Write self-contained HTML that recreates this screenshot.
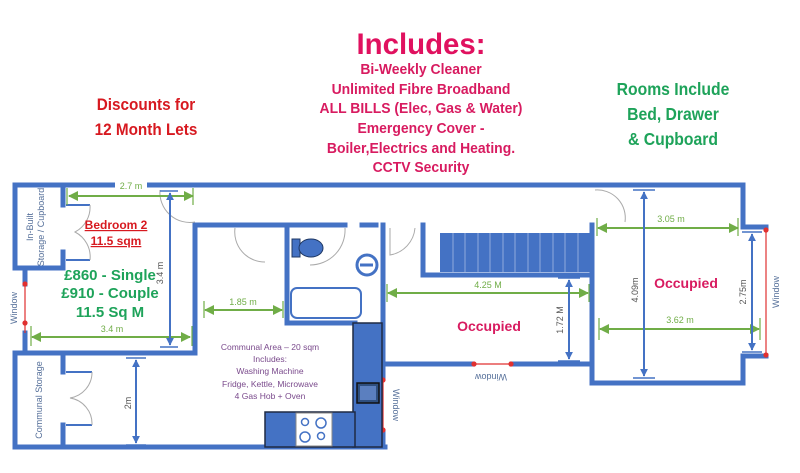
<!DOCTYPE html>
<html><head><meta charset="utf-8"><style>
html,body{margin:0;padding:0;background:#fff;width:800px;height:473px;overflow:hidden}
svg{display:block}
text{font-family:"Liberation Sans",sans-serif}
</style></head><body>
<svg width="800" height="473" viewBox="0 0 800 473" xmlns="http://www.w3.org/2000/svg">
<defs>
<marker id="ga" viewBox="0 0 10 10" refX="9" refY="5" markerWidth="5" markerHeight="5" orient="auto-start-reverse"><path d="M0,0L10,5L0,10z" fill="#70ad47"/></marker>
<marker id="ba" viewBox="0 0 10 10" refX="9" refY="5" markerWidth="4" markerHeight="4" orient="auto-start-reverse"><path d="M0,0L10,5L0,10z" fill="#4472c4"/></marker>
</defs>
<!-- header text -->
<g font-weight="bold" text-anchor="middle">
<text x="421" y="54" font-size="30" fill="#e0115f" transform="translate(421 0) scale(0.98 1) translate(-421 0)">Includes:</text>
<g font-size="15" fill="#d81b60" transform="translate(421 0) scale(0.93 1) translate(-421 0)">
<text x="421" y="74">Bi-Weekly Cleaner</text>
<text x="421" y="94">Unlimited Fibre Broadband</text>
<text x="421" y="113">ALL BILLS (Elec, Gas &amp; Water)</text>
<text x="421" y="133">Emergency Cover -</text>
<text x="421" y="153">Boiler,Electrics and Heating.</text>
<text x="421" y="172">CCTV Security</text>
</g>
<g font-size="17" fill="#d71920" transform="translate(146 0) scale(0.9 1) translate(-146 0)">
<text x="146" y="110">Discounts for</text>
<text x="146" y="135">12 Month Lets</text>
</g>
<g font-size="17.5" fill="#1ea35a" transform="translate(673 0) scale(0.9 1) translate(-673 0)">
<text x="673" y="95">Rooms Include</text>
<text x="673" y="120">Bed, Drawer</text>
<text x="673" y="145">&amp; Cupboard</text>
</g>
</g>

<!-- walls -->
<g stroke="#4472c4" stroke-width="5" fill="none" stroke-linecap="square">
<path d="M15,185 H743 V227 H766"/>
<path d="M766,356 H743 V383 H592 V225"/>
<path d="M15,185 V268 H63"/>
<path d="M25,268 V284"/>
<path d="M25,333 V353"/>
<path d="M15,353 H195 V225 H265"/>
<path d="M270,225 H345"/>
<path d="M362,225 H376"/>
<path d="M15,353 V447 H385"/>
<path d="M287,225 V323 H355"/>
<path d="M383,225 V378"/>
<path d="M383,432 V447"/>
<path d="M423,225 V275 H592"/>
<path d="M385,364 H472"/>
<path d="M512,364 H592"/>
<path d="M63,188 V205"/>
<path d="M63,252 V268"/>
<path d="M63,355 V372"/>
<path d="M63,425 V447"/>
</g>
<rect x="115" y="182" width="32" height="8" fill="#fff"/>
<!-- door leaves -->
<g stroke="#4472c4" stroke-width="2" fill="none">
<path d="M66,205 H90 M66,260 H90 M66,372 H92 M66,425 H92"/>
</g>
<g stroke="#aaa" stroke-width="1" fill="none">
<path d="M90,205 A28,28 0 0 1 75,232 A28,28 0 0 1 90,260"/>
<path d="M92,372 A26,26 0 0 1 70,398 A26,26 0 0 1 92,425"/>
<path d="M160,190 A30,30 0 0 0 195,222"/>
<path d="M235,228 A30,30 0 0 0 265,262"/>
<path d="M345,228 A35,35 0 0 1 310,265"/>
<path d="M390,228 V255 A30,30 0 0 0 415,228"/>
<path d="M595,190 A28,28 0 0 1 625,222"/>
</g>
<!-- windows -->
<g stroke="#e03030" stroke-width="1.2" fill="#e03030">
<line x1="25" y1="284" x2="25" y2="333"/>
<line x1="766" y1="228" x2="766" y2="356"/>
<line x1="472" y1="364" x2="512" y2="364"/>
<line x1="383" y1="378" x2="383" y2="432"/>
<circle cx="25" cy="284" r="2"/><circle cx="25" cy="323" r="2"/>
<circle cx="766" cy="230" r="2"/><circle cx="766" cy="355" r="2"/>
<circle cx="474" cy="364" r="2"/><circle cx="511" cy="364" r="2"/>
<circle cx="383" cy="380" r="2"/><circle cx="383" cy="430" r="2"/>
</g>
<!-- stairs -->
<rect x="440" y="233" width="150" height="39" fill="#4472c4"/>
<g stroke="#8fa9dc" stroke-width="1">
<path d="M453,233V272M465,233V272M478,233V272M490,233V272M503,233V272M515,233V272M528,233V272M540,233V272M553,233V272M565,233V272M578,233V272"/>
</g>
<!-- bathroom fixtures -->
<rect x="292" y="239" width="8" height="18" fill="#4472c4" stroke="#1f3864"/>
<ellipse cx="311" cy="248" rx="12" ry="9" fill="#4472c4" stroke="#1f3864"/>
<circle cx="367" cy="265" r="10" fill="none" stroke="#4472c4" stroke-width="3"/>
<path d="M360,265 H373" stroke="#4472c4" stroke-width="3"/>
<rect x="291" y="288" width="70" height="30" rx="6" fill="#fff" stroke="#4472c4" stroke-width="2"/>
<!-- kitchen -->
<rect x="353" y="323" width="29" height="124" fill="#4472c4" stroke="#1f2a44" stroke-width="1.5"/>
<rect x="265" y="412" width="90" height="35" fill="#4472c4" stroke="#1f2a44" stroke-width="1.5"/>
<rect x="296" y="413" width="36" height="33" fill="#fff" stroke="#888"/>
<g fill="none" stroke="#4472c4" stroke-width="1.5"><circle cx="305" cy="422" r="3.5"/><circle cx="321" cy="423" r="5"/><circle cx="305" cy="437" r="5"/><circle cx="321" cy="436" r="3.5"/></g>
<rect x="357" y="383" width="22" height="20" fill="#2f4f7f" stroke="#111" stroke-width="1.5"/>
<rect x="360" y="386" width="16" height="14" fill="#5b7fbf"/>
<!-- green dims -->
<g stroke="#70ad47" stroke-width="2" fill="none">
<line x1="69" y1="196" x2="193" y2="196" marker-start="url(#ga)" marker-end="url(#ga)"/>
<line x1="32" y1="337" x2="190" y2="337" marker-start="url(#ga)" marker-end="url(#ga)"/>
<line x1="205" y1="310" x2="282" y2="310" marker-start="url(#ga)" marker-end="url(#ga)"/>
<line x1="388" y1="293" x2="588" y2="293" marker-start="url(#ga)" marker-end="url(#ga)"/>
<line x1="598" y1="228" x2="738" y2="228" marker-start="url(#ga)" marker-end="url(#ga)"/>
<line x1="600" y1="329" x2="759" y2="329" marker-start="url(#ga)" marker-end="url(#ga)"/>
</g>
<g stroke="#70ad47" stroke-width="1.2"><path d="M67,188V205M193,188V205M31,326V346M192,326V346M204,301V318M283,301V318M387,284V302M589,284V302M597,218V236M738,218V236M599,318V340M760,318V340"/></g>
<!-- blue dims -->
<g stroke="#4472c4" stroke-width="2" fill="none">
<line x1="170" y1="193" x2="170" y2="345" marker-start="url(#ba)" marker-end="url(#ba)"/>
<line x1="136" y1="360" x2="136" y2="443" marker-start="url(#ba)" marker-end="url(#ba)"/>
<line x1="569" y1="280" x2="569" y2="359" marker-start="url(#ba)" marker-end="url(#ba)"/>
<line x1="644" y1="192" x2="644" y2="376" marker-start="url(#ba)" marker-end="url(#ba)"/>
<line x1="752" y1="234" x2="752" y2="350" marker-start="url(#ba)" marker-end="url(#ba)"/>
</g>
<g stroke="#4472c4" stroke-width="1.5"><path d="M160,191H178M160,347H178M126,358H146M126,445H146M558,278H580M558,361H580M633,190H655M633,378H655M742,232H762M742,352H762"/></g>
<!-- labels -->
<g font-size="9" fill="#70ad47" text-anchor="middle">
<text x="131" y="189">2.7 m</text>
<text x="112" y="332">3.4 m</text>
<text x="243" y="305">1.85 m</text>
<text x="488" y="288">4.25 M</text>
<text x="671" y="222">3.05 m</text>
<text x="680" y="323">3.62 m</text>
</g>
<g font-size="9" fill="#555" text-anchor="middle">
<text transform="translate(163 273) rotate(-90)">3.4 m</text>
<text transform="translate(131 403) rotate(-90)">2m</text>
<text transform="translate(563 320) rotate(-90)">1.72 M</text>
<text transform="translate(638 290) rotate(-90)">4.09m</text>
<text transform="translate(746 292) rotate(-90)">2.75m</text>
</g>
<g font-size="9" fill="#56709a" text-anchor="middle">
<text transform="translate(17 308) rotate(-90)">Window</text>
<text transform="translate(779 292) rotate(-90)">Window</text>
<text transform="translate(491 374) rotate(180)">Window</text>
<text transform="translate(393 405) rotate(90)">Window</text>
<text transform="translate(33 227) rotate(-90)">In-Built</text>
<text transform="translate(44 227) rotate(-90)">Storage / Cupboard</text>
<text transform="translate(42 400) rotate(-90)">Communal Storage</text>
</g>
<g font-size="8.5" fill="#7a4a8c" text-anchor="middle">
<text x="270" y="350">Communal Area – 20 sqm</text>
<text x="270" y="362">Includes:</text>
<text x="270" y="374">Washing Machine</text>
<text x="270" y="387">Fridge, Kettle, Microwave</text>
<text x="270" y="399">4 Gas Hob + Oven</text>
</g>
<g font-weight="bold" text-anchor="middle">
<text x="116" y="229" font-size="12" fill="#d71920" text-decoration="underline">Bedroom 2</text>
<text x="116" y="245" font-size="12" fill="#d71920" text-decoration="underline">11.5 sqm</text>
<text x="110" y="280" font-size="15" fill="#1ea35a">£860 - Single</text>
<text x="110" y="298" font-size="15" fill="#1ea35a">£910 - Couple</text>
<text x="110" y="317" font-size="15" fill="#1ea35a">11.5 Sq M</text>
<text x="489" y="331" font-size="14" fill="#d81b60">Occupied</text>
<text x="686" y="288" font-size="14" fill="#d81b60">Occupied</text>
</g>
</svg>
</body></html>
